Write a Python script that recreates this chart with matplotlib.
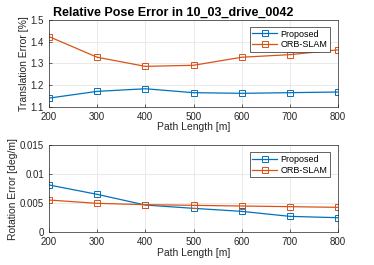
import matplotlib
matplotlib.use("Agg")
import matplotlib.pyplot as plt

plt.rcParams['font.family'] = ['Liberation Sans', 'DejaVu Sans']

path_len = [200, 300, 400, 500, 600, 700, 800]
trans_proposed = [1.140, 1.171, 1.183, 1.165, 1.162, 1.165, 1.168]
trans_orb = [1.423, 1.328, 1.286, 1.291, 1.328, 1.340, 1.362]
rot_proposed = [0.00816, 0.00655, 0.00471, 0.00414, 0.00362, 0.00276, 0.00253]
rot_orb = [0.00557, 0.00500, 0.00477, 0.00466, 0.00454, 0.00443, 0.00431]

c_prop = (0.0, 0.447, 0.741)
c_orb = (0.85, 0.325, 0.098)

fig = plt.figure(figsize=(3.74, 2.65), dpi=100)
ax1 = fig.add_axes([0.131, 0.597, 0.773, 0.328])
ax2 = fig.add_axes([0.131, 0.123, 0.773, 0.329])


def style(ax, ylabel, yticks, ylim, yticklabels):
    ax.set_xlim(200, 800)
    ax.set_xticks(path_len)
    ax.set_ylim(*ylim)
    ax.set_yticks(yticks)
    ax.set_yticklabels(yticklabels)
    ax.grid(True, color='#e6e6e6', linewidth=0.6)
    ax.set_axisbelow(True)
    ax.tick_params(labelsize=7, direction='in', length=2, width=0.5, colors='#262626', pad=3.5)
    for s in ax.spines.values():
        s.set_linewidth(0.5)
        s.set_color('#262626')
    ax.set_xlabel('Path Length [m]', fontsize=7.5, color='#262626', labelpad=0.5)
    ax.set_ylabel(ylabel, fontsize=7.5, color='#262626', labelpad=1.5)
    leg = ax.legend(loc='upper right', bbox_to_anchor=(0.972, 0.92), fontsize=6.5,
                    fancybox=False, framealpha=1, edgecolor='#262626', borderaxespad=0,
                    borderpad=0.3, labelspacing=0.2, handlelength=2.7, handletextpad=0.4)
    leg.get_frame().set_linewidth(0.5)


mk = dict(marker='s', markersize=4, markerfacecolor='none', markeredgewidth=0.7, linewidth=0.9)
ax1.plot(path_len, trans_proposed, color=c_prop, label='Proposed', **mk)
ax1.plot(path_len, trans_orb, color=c_orb, label='ORB-SLAM', **mk)
style(ax1, 'Translation Error [%]', [1.1, 1.2, 1.3, 1.4, 1.5], (1.1, 1.5),
      ['1.1', '1.2', '1.3', '1.4', '1.5'])
ax1.set_title('Relative Pose Error in 10_03_drive_0042', fontsize=9, fontweight='bold',
              pad=3, x=0.43)

ax2.plot(path_len, rot_proposed, color=c_prop, label='Proposed', **mk)
ax2.plot(path_len, rot_orb, color=c_orb, label='ORB-SLAM', **mk)
style(ax2, 'Rotation Error [deg/m]', [0, 0.005, 0.01, 0.015], (0, 0.015),
      ['0', '0.005', '0.01', '0.015'])

fig.savefig('out.png', dpi=100)
